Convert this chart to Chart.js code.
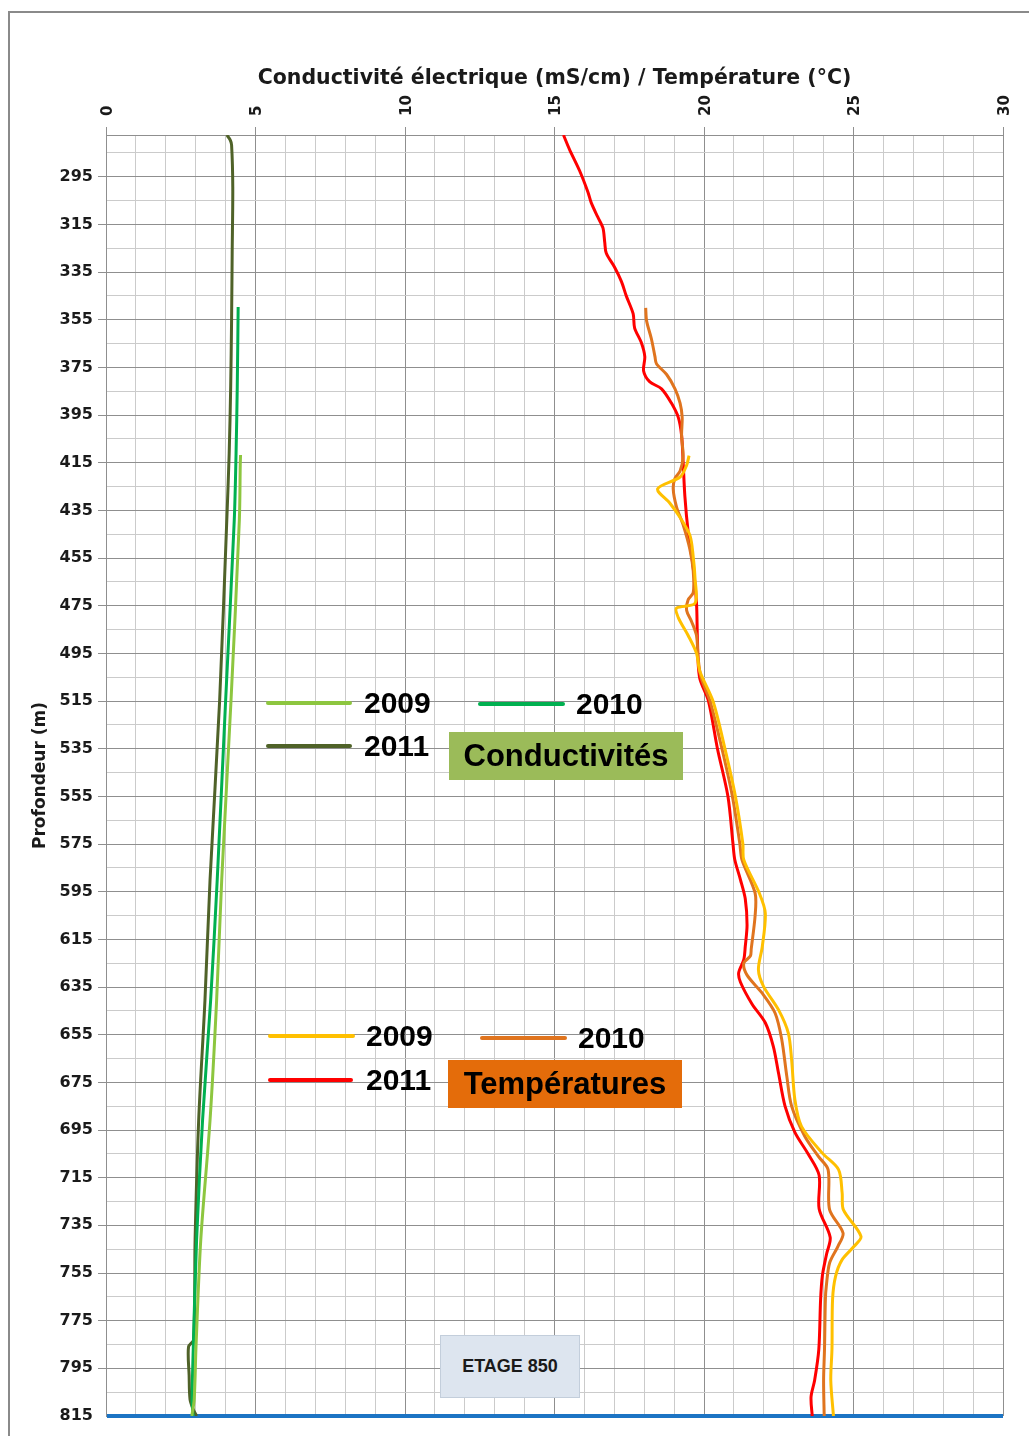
<!DOCTYPE html>
<html>
<head>
<meta charset="utf-8">
<script src="https://cdn.jsdelivr.net/npm/chart.js@4.4.1/dist/chart.umd.min.js"></script>
<style>
  html, body { margin: 0; padding: 0; background: #ffffff; }
  #wrap { position: relative; width: 1029px; height: 1436px; overflow: hidden; }
  #frame { position: absolute; left: 8px; top: 11px; width: 1100px; height: 1500px; border: 2px solid #8a8a8a; box-sizing: border-box; }
  #chartBox { position: absolute; left: 0; top: 0; width: 1029px; height: 1436px; }
  .ov { position: absolute; font-family: "Liberation Sans", Arial, sans-serif; font-weight: bold; color: #000; white-space: nowrap; }
  .sample { position: absolute; height: 4px; border-radius: 2px; }
  .yr { font-size: 30px; line-height: 40px; height: 40px; }
  .tag { font-size: 31px; text-align: center; }
  #etage { position: absolute; left: 440px; top: 1335px; width: 140px; height: 63px; background: #dde5ef; border: 1px solid #c3cedb; box-sizing: border-box; font-family: "Liberation Sans", Arial, sans-serif; font-weight: bold; font-size: 18px; line-height: 61px; text-align: center; color: #1a1a1a; }
</style>
</head>
<body>
<div id="wrap">
  <div id="frame"></div>
  <div id="chartBox"><canvas id="c" width="1029" height="1436"></canvas></div>
  <div id="overlays"></div>
</div>
<script>
// ---------- DATA ----------
const years = ['2009', '2010', '2011'];
const xTitle = 'Conductivité électrique (mS/cm) / Température (°C)';
const yTitle = 'Profondeur (m)';
const condGroupLabel = 'Conductivités';
const tempGroupLabel = 'Températures';
const levelLabel = 'ETAGE 850';

const xTicks = [0, 5, 10, 15, 20, 25, 30];
const yTickLabels = [295, 315, 335, 355, 375, 395, 415, 435, 455, 475, 495, 515, 535, 555, 575, 595, 615, 635, 655, 675, 695, 715, 735, 755, 775, 795, 815];
const depthTop = 277.5;
const depthBottom = 815;

// Conductivity (mS/cm)
const condDepth2009 = [411.8, 416, 439, 515, 590, 640.5, 690.8, 741, 786, 808, 815];
const cond2009      = [4.50, 4.49, 4.46, 4.18, 3.87, 3.70, 3.48, 3.17, 3.01, 2.95, 2.87];

const condDepth2010 = [349.7, 383.2, 411, 439, 515, 590, 640.5, 690.8, 741, 786, 808, 815];
const cond2010      = [4.42, 4.39, 4.35, 4.29, 4.00, 3.72, 3.50, 3.23, 3.03, 2.92, 2.88, 2.91];

const condDepth2011 = [277.5, 279.5, 281.7, 299.3, 327, 355.1, 383.2, 411, 439, 515, 590, 640.5, 690.8, 741, 783, 786, 798, 808, 812, 815];
const cond2011      = [4.04, 4.15, 4.20, 4.24, 4.22, 4.20, 4.17, 4.12, 4.04, 3.80, 3.48, 3.31, 3.10, 2.98, 2.93, 2.76, 2.78, 2.81, 2.91, 3.03];

// Temperature (°C)
const tempDepth2009 = [412, 416, 421, 426, 432, 438, 445.5, 454.5, 463.5, 474, 476, 480, 487.5, 495, 502.5, 515, 535, 555, 575, 581.6, 595.6, 604, 618, 627.7, 634.7, 644.5, 654.3, 665.5, 682.3, 693.5, 704.6, 711.6, 721.4, 728.4, 739.6, 743.8, 749.4, 756.4, 766, 787, 800, 815];
const temp2009      = [19.50, 19.42, 19.20, 18.45, 18.86, 19.20, 19.53, 19.64, 19.70, 19.70, 19.08, 19.14, 19.47, 19.75, 19.86, 20.30, 20.70, 21.05, 21.30, 21.33, 21.85, 22.05, 21.95, 21.82, 21.99, 22.49, 22.82, 22.93, 23.04, 23.26, 23.95, 24.50, 24.62, 24.66, 25.25, 25.02, 24.62, 24.40, 24.30, 24.28, 24.24, 24.33];

const tempDepth2010 = [350, 355.5, 363, 370.5, 373.5, 378, 384, 390, 396, 403.5, 412.5, 418.5, 421.5, 426, 433.5, 441, 451.5, 460.5, 469.5, 472.5, 477, 481.5, 487.5, 496.5, 505, 515, 535, 555, 575, 581.6, 595.6, 605, 619, 622, 625, 630, 637.5, 646, 657, 672.5, 685, 697.6, 706, 711.6, 728.4, 738.2, 743.8, 750.8, 760.6, 766, 787, 800, 815];
const temp2010      = [18.05, 18.08, 18.24, 18.36, 18.41, 18.75, 19.03, 19.20, 19.27, 19.25, 19.30, 19.20, 19.03, 18.97, 19.08, 19.30, 19.53, 19.64, 19.64, 19.47, 19.42, 19.58, 19.75, 19.80, 19.90, 20.20, 20.60, 20.95, 21.20, 21.27, 21.71, 21.71, 21.58, 21.55, 21.33, 21.44, 21.94, 22.38, 22.60, 22.77, 22.93, 23.37, 23.82, 24.15, 24.20, 24.65, 24.48, 24.20, 24.09, 24.06, 24.03, 24.00, 24.02];

const tempDepth2011 = [277.5, 283.5, 292.5, 301.5, 306, 312, 316.5, 322.5, 327, 333, 339, 345, 352.5, 358.5, 364.5, 370.5, 376.5, 381, 384, 390, 396, 403.5, 414, 429, 444, 459, 474, 489, 505, 515, 535, 555, 575, 581.6, 590, 598, 609, 618, 623.5, 629, 633, 642, 650, 660, 671, 685, 696, 705, 714, 728, 740, 747, 756, 766, 787, 800, 807, 815];
const temp2011      = [15.30, 15.50, 15.84, 16.12, 16.23, 16.45, 16.62, 16.68, 16.73, 17.01, 17.24, 17.40, 17.63, 17.68, 17.90, 18.02, 17.98, 18.18, 18.58, 18.91, 19.14, 19.25, 19.30, 19.36, 19.47, 19.64, 19.75, 19.78, 19.85, 20.15, 20.45, 20.80, 20.97, 21.03, 21.22, 21.38, 21.44, 21.38, 21.33, 21.16, 21.22, 21.60, 22.05, 22.32, 22.49, 22.71, 23.04, 23.48, 23.85, 23.85, 24.22, 24.10, 23.96, 23.90, 23.84, 23.70, 23.58, 23.62];

// ---------- STYLES ----------
const condColors = ['#8dc63f', '#00b050', '#4f6228'];
const tempColors = ['#ffc000', '#e0741e', '#ff0000'];
const gridMajor = '#8f8f8f';
const gridMinor = '#cbcbcb';
const levelColor = '#1c74c4';
const axisFont = '"DejaVu Sans", sans-serif';

function pts(depths, vals) { return depths.map((d, i) => ({ x: vals[i], y: d })); }
function ds(label, depths, vals, color, group) {
  return { label: label, group: group, data: pts(depths, vals), borderColor: color, backgroundColor: color,
           borderWidth: 3, pointRadius: 0, pointHoverRadius: 0, showLine: true, fill: false, tension: 0.3 };
}

const datasets = [
  ds(years[0], condDepth2009, cond2009, condColors[0], 'cond'),
  ds(years[1], condDepth2010, cond2010, condColors[1], 'cond'),
  ds(years[2], condDepth2011, cond2011, condColors[2], 'cond'),
  ds(years[0], tempDepth2009, temp2009, tempColors[0], 'temp'),
  ds(years[1], tempDepth2010, temp2010, tempColors[1], 'temp'),
  ds(years[2], tempDepth2011, temp2011, tempColors[2], 'temp')
];

const isYMajor = v => yTickLabels.includes(v);

new Chart(document.getElementById('c'), {
  type: 'scatter',
  data: { datasets: datasets },
  options: {
    responsive: false,
    animation: false,
    events: [],
    layout: { padding: { top: 0, left: 0, right: 26, bottom: 20 } },
    plugins: { legend: { display: false }, tooltip: { enabled: false } },
    scales: {
      x: {
        type: 'linear', position: 'top', min: 0, max: 30,
        afterBuildTicks: s => { const t = []; for (let v = 0; v <= 30; v++) t.push({ value: v }); s.ticks = t; },
        afterFit: s => { s.height = 135; },
        ticks: {
          autoSkip: false, minRotation: 90, maxRotation: 90, padding: 11, labelOffset: 20,
          color: '#1a1a1a', font: { family: axisFont, weight: 'bold', size: 15 },
          callback: v => xTicks.includes(v) ? String(v) : ''
        },
        grid: {
          color: c => (c.tick && xTicks.includes(c.tick.value)) ? gridMajor : gridMinor,
          tickColor: c => (c.tick && xTicks.includes(c.tick.value)) ? gridMajor : 'rgba(0,0,0,0)',
          tickLength: 8, lineWidth: 1
        },
        border: { display: true, color: gridMajor, width: 1 },
        title: { display: true, text: xTitle, color: '#1a1a1a', font: { family: axisFont, weight: 'bold', size: 20.5 }, padding: { top: 66, bottom: 4 } }
      },
      y: {
        type: 'linear', reverse: true, min: depthTop, max: depthBottom,
        afterBuildTicks: s => { const t = []; for (let v = 285; v <= 815; v += 10) t.push({ value: v }); s.ticks = t; },
        afterFit: s => { s.width = 106; },
        ticks: {
          autoSkip: false, padding: 5, color: '#1a1a1a',
          font: { family: axisFont, weight: 'bold', size: 16 },
          callback: v => isYMajor(v) ? String(v) : ''
        },
        grid: {
          color: c => !c.tick ? gridMinor : (c.tick.value === depthBottom ? levelColor : (isYMajor(c.tick.value) ? gridMajor : gridMinor)),
          lineWidth: c => (c.tick && c.tick.value === depthBottom) ? 4 : 1,
          tickColor: c => (c.tick && isYMajor(c.tick.value) && c.tick.value !== depthBottom) ? gridMajor : 'rgba(0,0,0,0)',
          tickLength: 8
        },
        border: { display: true, color: gridMajor, width: 1 },
        title: { display: true, text: yTitle, color: '#1a1a1a', font: { family: axisFont, weight: 'bold', size: 17 }, padding: { top: 30, bottom: 0 } }
      }
    }
  }
});

// ---------- LEGENDS / LABELS (real text) ----------
const ov = document.getElementById('overlays');
function addSample(x1, x2, yc, color) {
  const d = document.createElement('div'); d.className = 'sample';
  d.style.left = x1 + 'px'; d.style.width = (x2 - x1) + 'px'; d.style.top = (yc - 2) + 'px'; d.style.background = color;
  ov.appendChild(d);
}
function addYear(x, yc, text) {
  const d = document.createElement('div'); d.className = 'ov yr';
  d.style.left = x + 'px'; d.style.top = (yc - 20) + 'px'; d.textContent = text;
  ov.appendChild(d);
}
function addTag(x1, y1, x2, y2, bg, text) {
  const d = document.createElement('div'); d.className = 'ov tag';
  d.style.left = x1 + 'px'; d.style.top = y1 + 'px'; d.style.width = (x2 - x1) + 'px'; d.style.height = (y2 - y1) + 'px';
  d.style.lineHeight = (y2 - y1) + 'px'; d.style.background = bg; d.textContent = text;
  ov.appendChild(d);
}
const condDs = datasets.filter(d => d.group === 'cond');
const tempDs = datasets.filter(d => d.group === 'temp');
// Conductivity legend
addSample(266, 352, 703, condDs[0].borderColor); addYear(364, 703, condDs[0].label);
addSample(478, 565, 704, condDs[1].borderColor); addYear(576, 704, condDs[1].label);
addSample(266, 352, 746, condDs[2].borderColor); addYear(364, 746, condDs[2].label);
addTag(449, 732, 683, 780, '#9bbb59', condGroupLabel);
// Temperature legend
addSample(268, 355, 1036, tempDs[0].borderColor); addYear(366, 1036, tempDs[0].label);
addSample(480, 567, 1038, tempDs[1].borderColor); addYear(578, 1038, tempDs[1].label);
addSample(268, 353, 1080, tempDs[2].borderColor); addYear(366, 1080, tempDs[2].label);
addTag(448, 1060, 682, 1108, '#e46c0a', tempGroupLabel);
// Level box
const et = document.createElement('div'); et.id = 'etage'; et.textContent = levelLabel; ov.appendChild(et);
</script>
</body>
</html>
